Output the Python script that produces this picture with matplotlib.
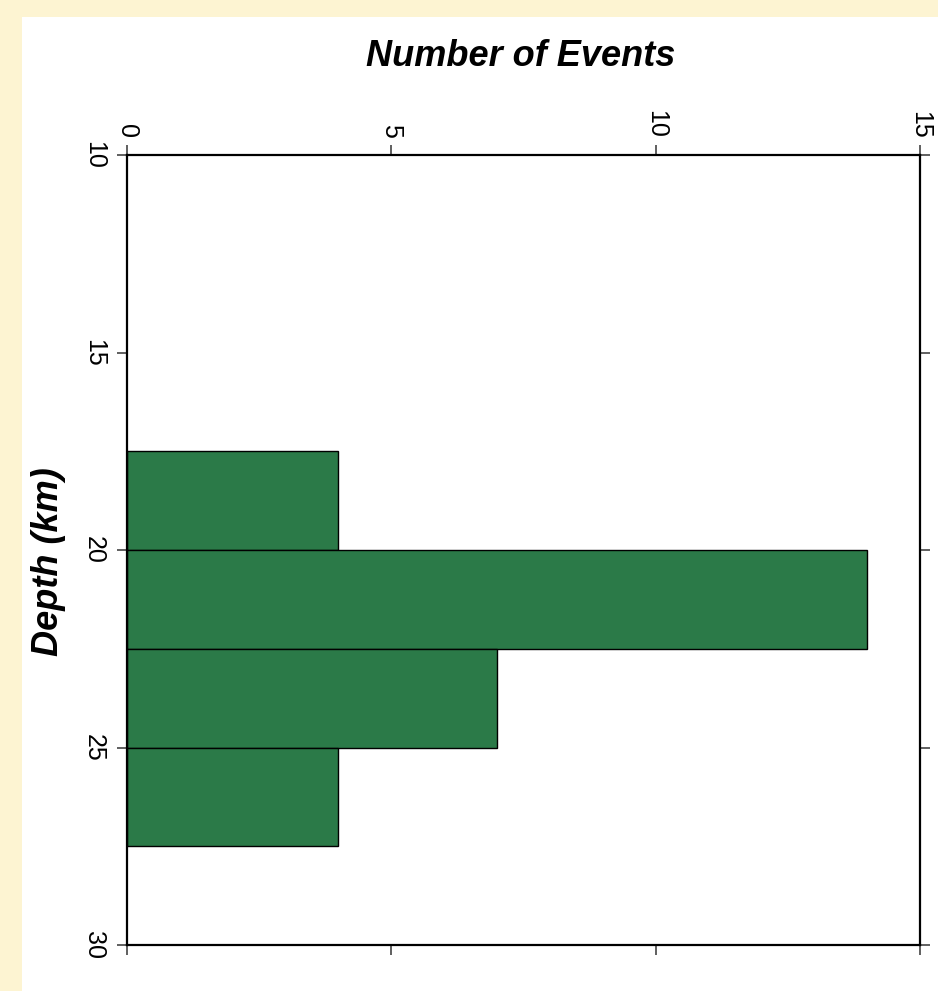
import matplotlib
matplotlib.use('Agg')
import matplotlib.pyplot as plt
from matplotlib.patches import Rectangle

# depth bins (km) and number of events in each
depth_bin_start = [17.5, 20.0, 22.5, 25.0]
bin_width = 2.5
event_counts = [4, 14, 7, 4]

count_ticks = [0, 5, 10, 15]
depth_ticks = [10, 15, 20, 25, 30]

plt.rcParams['font.family'] = ['Liberation Sans', 'DejaVu Sans']

fig = plt.figure(figsize=(9.38, 9.91), dpi=100)
fig.patch.set_facecolor('white')

# yellowish slide border on the left and top
fig.patches.append(Rectangle((0, 0), 22 / 938, 1, transform=fig.transFigure,
                             facecolor='#fdf4d2', edgecolor='none', zorder=0))
fig.patches.append(Rectangle((0, 1 - 17 / 991), 1, 17 / 991, transform=fig.transFigure,
                             facecolor='#fdf4d2', edgecolor='none', zorder=0))

ax = fig.add_axes([127 / 938, 1 - 945 / 991, (920 - 127) / 938, (945 - 155) / 991])

ax.barh(depth_bin_start, event_counts, height=bin_width, align='edge',
        color='#2b7a48', edgecolor='black', linewidth=1.0)

ax.set_xlim(0, 15)
ax.set_ylim(30, 10)
ax.set_xticks(count_ticks)
ax.set_yticks(depth_ticks)

ax.xaxis.tick_top()
ax.tick_params(axis='both', which='major', direction='out', length=7, width=1.2,
               color='#444444', labelsize=18, top=True, bottom=True, left=True, right=True,
               labeltop=True, labelbottom=False, labelleft=True, labelright=False)
ax.tick_params(axis='x', pad=5)
ax.tick_params(axis='y', pad=8)
for lab in ax.get_xticklabels():
    lab.set_rotation(-90)
for lab in ax.get_yticklabels():
    lab.set_rotation(-90)
    lab.set_va('center')

for sp in ax.spines.values():
    sp.set_linewidth(1.6)

fig.text(521 / 938, 1 - 56 / 991, 'Number of Events', ha='center', va='center',
         fontsize=26, fontweight='bold', fontstyle='italic')
fig.text(48 / 938, 1 - 562 / 991, 'Depth (km)', ha='center', va='center', rotation=90,
         fontsize=26, fontweight='bold', fontstyle='italic')

fig.savefig('out.png', dpi=100)
